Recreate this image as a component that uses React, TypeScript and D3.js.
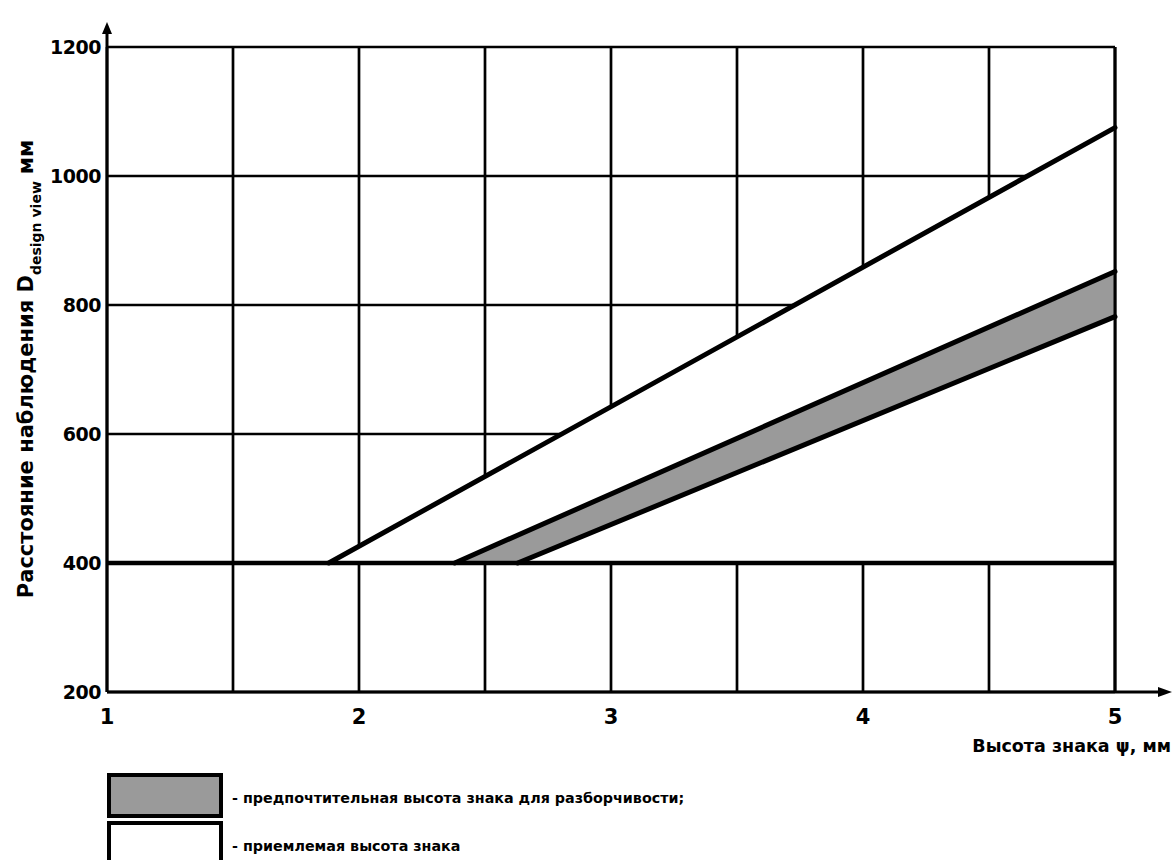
import React from 'react';
import * as d3 from 'd3';

// tick values
const xTicks = [1, 2, 3, 4, 5];
const xGrid = [1, 1.5, 2, 2.5, 3, 3.5, 4, 4.5, 5];
const yTicks = [200, 400, 600, 800, 1000, 1200];

// boundaries: [glyph height, viewing distance]
const acceptableTop: [number, number][] = [[1.88, 400], [5, 1075]];
const preferredTop: [number, number][] = [[2.38, 400], [5, 852]];
const preferredBottom: [number, number][] = [[2.63, 400], [5, 782]];
const baseValue = 400;

const legendItems = [
  { label: '- предпочтительная высота знака для разборчивости;', fill: '#9a9a9a' },
  { label: '- приемлемая высота знака', fill: '#ffffff' },
];

const FONT = '"DejaVu Sans", "Liberation Sans", Arial, sans-serif';

export default function App() {
  const width = 1174;
  const height = 860;

  const x = d3.scaleLinear().domain([1, 5]).range([107, 1115]);
  const y = d3.scaleLinear().domain([200, 1200]).range([692, 47]);

  const line = d3.line<[number, number]>()
    .x(d => x(d[0]))
    .y(d => y(d[1]));

  // white region between upper line and 400 line
  const whiteArea: [number, number][] = [...acceptableTop, [5, baseValue]];
  // gray band
  const grayArea: [number, number][] = [...preferredTop, ...[...preferredBottom].reverse()];

  const x0 = x(1);
  const x1 = x(5);
  const yTop = y(1200);
  const yBot = y(200);

  return (
    <svg
      width={width}
      height={height}
      style={{ position: 'absolute', left: 0, top: 0, background: '#fff' }}
      fontFamily={FONT}
    >
      <rect width={width} height={height} fill="#fff" />

      {/* grid */}
      <g stroke="#000" strokeWidth={2.7}>
        {xGrid.map(v => (
          <line key={'vx' + v} x1={x(v)} x2={x(v)} y1={yTop} y2={yBot} />
        ))}
        {yTicks.map(v => (
          <line key={'hy' + v} x1={x0} x2={x1} y1={y(v)} y2={y(v)} />
        ))}
      </g>

      {/* regions */}
      <path d={line(whiteArea) + 'Z'} fill="#fff" />
      <path d={line(grayArea) + 'Z'} fill="#9a9a9a" />

      {/* boundary lines */}
      <g stroke="#000" strokeWidth={5} fill="none" strokeLinecap="round">
        <path d={line(acceptableTop) || ''} />
        <path d={line(preferredTop) || ''} />
        <path d={line(preferredBottom) || ''} />
      </g>
      <line x1={x0} x2={x1} y1={y(baseValue)} y2={y(baseValue)} stroke="#000" strokeWidth={4.5} />
      <line x1={x1} x2={x1} y1={yTop} y2={yBot} stroke="#000" strokeWidth={3} />

      {/* axes */}
      <line x1={x0} x2={x0} y1={30} y2={yBot} stroke="#000" strokeWidth={3} />
      <path d={`M${x0},22 L${x0 - 5},34 L${x0 + 5},34 Z`} fill="#000" />
      <line x1={x0} x2={1162} y1={yBot} y2={yBot} stroke="#000" strokeWidth={3} />
      <path d={`M1172,${yBot} L1158,${yBot - 5} L1158,${yBot + 5} Z`} fill="#000" />

      {/* y tick labels */}
      <g fontSize={19} fontWeight="bold" textAnchor="end">
        {yTicks.map(v => (
          <text key={'yl' + v} x={x0 - 6} y={y(v)} dy="0.36em" letterSpacing={-0.5}>{v}</text>
        ))}
      </g>

      {/* x tick labels */}
      <g fontSize={21} fontWeight="bold" textAnchor="middle">
        {xTicks.map(v => (
          <text key={'xl' + v} x={x(v)} y={yBot + 32}>{v}</text>
        ))}
      </g>

      {/* axis titles */}
      <text x={1171} y={752} fontSize={17.5} fontWeight="bold" textAnchor="end">Высота знака ψ, мм</text>
      <text
        transform="translate(33,369) rotate(-90)"
        fontSize={21}
        fontWeight="bold"
        textAnchor="middle"
      >
        Расстояние наблюдения D
        <tspan fontSize={14} baselineShift="sub">design view</tspan>
        <tspan dx={7}>мм</tspan>
      </text>

      {/* legend */}
      {legendItems.map((item, i) => (
        <g key={item.label} transform={`translate(0,${775 + i * 48})`}>
          <rect x={109} y={0} width={112} height={41} fill={item.fill} stroke="#000" strokeWidth={4} />
          <text x={232} y={28} fontSize={14.3} fontWeight="bold">{item.label}</text>
        </g>
      ))}
    </svg>
  );
}
